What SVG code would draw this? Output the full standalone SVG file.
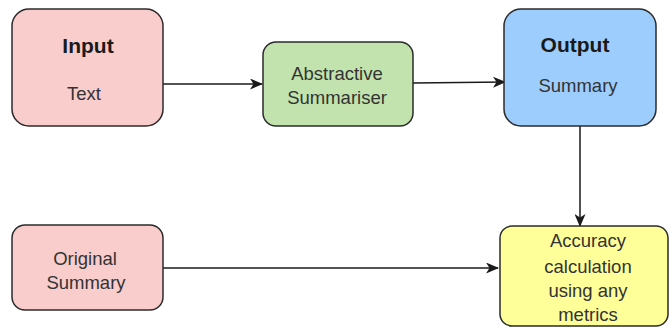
<svg xmlns="http://www.w3.org/2000/svg" width="671" height="327" viewBox="0 0 671 327">
  <style>
    .box { stroke: #2b2b2b; stroke-width: 1.5; }
    .pink { fill: #f8cdcc; }
    .green { fill: #c2e3ad; }
    .blue { fill: #9dcdfd; }
    .yellow { fill: #ffff99; }
    .label { font-family: "Liberation Sans", Arial, sans-serif; font-size: 18.5px; fill: #333333; text-anchor: middle; dominant-baseline: central; }
    .title { font-family: "Liberation Sans", Arial, sans-serif; font-size: 21px; font-weight: bold; fill: #1a1a1a; text-anchor: middle; dominant-baseline: central; }
    .edge { fill: none; stroke: #1a1a1a; stroke-width: 1.5; }
  </style>
  <defs>
    <marker id="arrow" viewBox="0 0 13 11" refX="12" refY="5.5" markerWidth="13" markerHeight="11" markerUnits="userSpaceOnUse" orient="auto">
      <path d="M0,0 L13,5.5 L0,11 L3.5,5.5 Z" fill="#1a1a1a"/>
    </marker>
  </defs>
  <rect width="671" height="327" fill="#ffffff"/>

  <g id="connectors">
    <line class="edge" x1="163" y1="84" x2="262" y2="84" marker-end="url(#arrow)"/>
    <line class="edge" x1="413" y1="83" x2="505" y2="82" marker-end="url(#arrow)"/>
    <line class="edge" x1="580" y1="126" x2="580" y2="226" marker-end="url(#arrow)"/>
    <line class="edge" x1="163" y1="268" x2="498" y2="268" marker-end="url(#arrow)"/>
  </g>

  <g id="input">
    <rect class="box pink" x="12" y="9" width="151" height="117" rx="17"/>
    <text class="title" x="88" y="45">Input</text>
    <text class="label" x="84" y="93">Text</text>
  </g>

  <g id="summariser">
    <rect class="box green" x="263" y="42" width="150" height="84" rx="13"/>
    <text class="label" x="337" y="73">Abstractive</text>
    <text class="label" x="337" y="97">Summariser</text>
  </g>

  <g id="output">
    <rect class="box blue" x="504" y="9" width="152" height="117" rx="17"/>
    <text class="title" x="575" y="44">Output</text>
    <text class="label" x="578" y="85">Summary</text>
  </g>

  <g id="original-summary">
    <rect class="box pink" x="12" y="225" width="151" height="85" rx="13"/>
    <text class="label" x="85" y="258">Original</text>
    <text class="label" x="86" y="282">Summary</text>
  </g>

  <g id="accuracy">
    <rect class="box yellow" x="500" y="226" width="168" height="100" rx="12"/>
    <text class="label" x="588" y="240">Accuracy</text>
    <text class="label" x="588" y="266">calculation</text>
    <text class="label" x="588" y="290">using any</text>
    <text class="label" x="588" y="314">metrics</text>
  </g>
</svg>
